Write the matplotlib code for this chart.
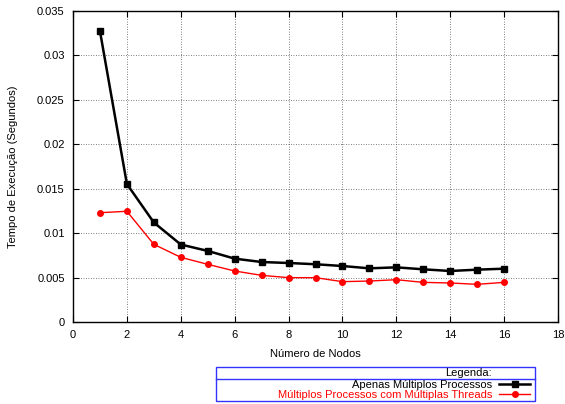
import matplotlib
matplotlib.use("Agg")
import matplotlib.pyplot as plt
from matplotlib.patches import Rectangle
from matplotlib.lines import Line2D

plt.rcParams['font.family'] = ['Liberation Sans', 'DejaVu Sans']

nodos = [1, 2, 3, 4, 5, 6, 7, 8, 9, 10, 11, 12, 13, 14, 15, 16]
processos = [0.03275, 0.01553, 0.01120, 0.00872, 0.00800, 0.00713, 0.00675, 0.00664,
             0.00650, 0.00630, 0.00604, 0.00615, 0.00593, 0.00574, 0.00589, 0.00600]
threads = [0.01230, 0.01246, 0.00874, 0.00728, 0.00649, 0.00574, 0.00525, 0.00499,
           0.00499, 0.00454, 0.00461, 0.00476, 0.00446, 0.00439, 0.00424, 0.00446]

label_proc = "Apenas Múltiplos Processos"
label_thr = "Múltiplos Processos com Múltiplas Threads"

fig = plt.figure(figsize=(5.65, 4.04), dpi=100)
ax = fig.add_axes([73/565, 1 - 322/404, (558-73)/565, (322-11)/404])

ax.plot(nodos, processos, color='black', lw=1.8, marker='s', ms=4, mfc='black', mec='black')
ax.plot(nodos, threads, color='red', lw=1.0, marker='o', ms=4, mfc='red', mec='red')

ax.set_xlim(0, 18)
ax.set_ylim(0, 0.035)
ax.set_xticks(range(0, 19, 2))
ax.set_yticks([0, 0.005, 0.01, 0.015, 0.02, 0.025, 0.03, 0.035])
ax.set_yticklabels(['0', '0.005', '0.01', '0.015', '0.02', '0.025', '0.03', '0.035'])
ax.tick_params(direction='in', top=True, right=True, labelsize=8, length=4, width=0.8, pad=6)
ax.grid(True, color='#555555', linestyle=(0, (1, 2)), linewidth=0.6)
for s in ax.spines.values():
    s.set_linewidth(1.0)
ax.set_xlabel("Número de Nodos", fontsize=8, labelpad=6)
ax.set_ylabel("Tempo de Execução (Segundos)", fontsize=8, labelpad=14)

# Legend box below the plot
W, H = 565, 404
def fx(px):
    return px / W
def fy(py):
    return 1 - py / H

box = Rectangle((fx(216), fy(401)), fx(535) - fx(216), fy(367) - fy(401),
                transform=fig.transFigure, fill=False, edgecolor='#3333ff', lw=1.0)
fig.patches.append(box)
fig.add_artist(Line2D([fx(216), fx(535)], [fy(378.5), fy(378.5)], transform=fig.transFigure,
                      color='#3333ff', lw=1.0))
fig.text(fx(492), fy(372.5), "Legenda:", ha='right', va='center', fontsize=8)
fig.text(fx(492), fy(384.5), label_proc, ha='right', va='center', fontsize=8, color='black')
fig.text(fx(492), fy(394.5), label_thr, ha='right', va='center', fontsize=8, color='red')
fig.add_artist(Line2D([fx(499), fx(530)], [fy(384), fy(384)], transform=fig.transFigure,
                      color='black', lw=1.8))
fig.add_artist(Line2D([fx(514.5)], [fy(384)], transform=fig.transFigure,
                      color='black', marker='s', ms=4))
fig.add_artist(Line2D([fx(499), fx(530)], [fy(394), fy(394)], transform=fig.transFigure,
                      color='red', lw=1.0))
fig.add_artist(Line2D([fx(514.5)], [fy(394)], transform=fig.transFigure,
                      color='red', marker='o', ms=4))

fig.savefig("out.png", dpi=100)
